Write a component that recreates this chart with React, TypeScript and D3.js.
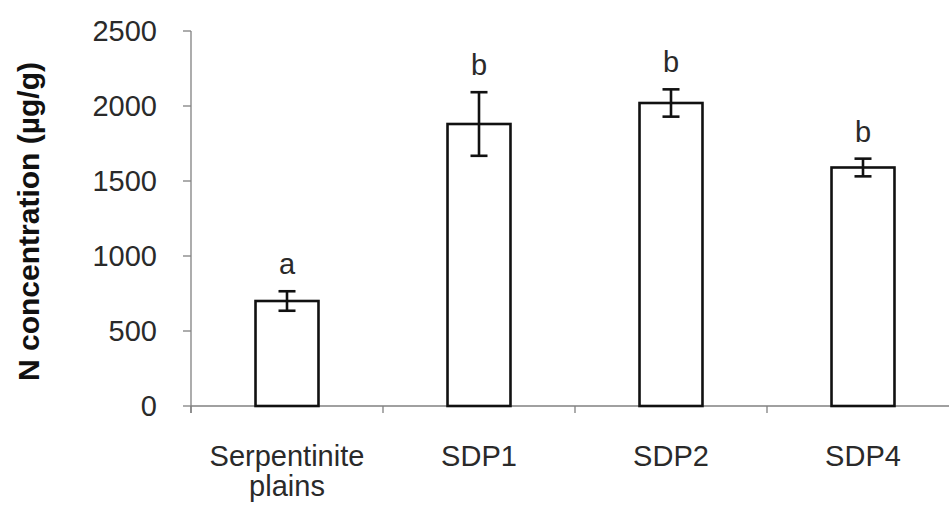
import React from 'react';
import * as d3 from 'd3';

// Values (µg/g), error bars are +/- half range
const categories = ['Serpentinite plains', 'SDP1', 'SDP2', 'SDP4'];
const categoryLines = [['Serpentinite', 'plains'], ['SDP1'], ['SDP2'], ['SDP4']];
const means = [700, 1880, 2020, 1590];
const errors = [65, 212, 91, 59];
const letters = ['a', 'b', 'b', 'b'];
const yTicks = [0, 500, 1000, 1500, 2000, 2500];

const W = 949;
const H = 506;
const font = '"Liberation Sans", Arial, Helvetica, sans-serif';
const axisColor = '#808080';
const textColor = '#2a2a2a';

export default function App() {
  // plot area
  const left = 191;
  const right = 959; // last category runs a bit past the window edge
  const top = 31;
  const bottom = 406;

  const x = d3
    .scaleBand<string>()
    .domain(categories)
    .range([left, right])
    .paddingInner(0.672)
    .paddingOuter(0.336);
  const y = d3.scaleLinear().domain([0, 2500]).range([bottom, top]);

  const step = x.step();
  const bw = x.bandwidth();
  const capHalf = 8.5;

  // category boundary ticks on the x axis
  const boundaries = d3.range(categories.length + 1).map((i) => left + i * step);

  return (
    <svg
      width={W}
      height={H}
      style={{ position: 'absolute', left: 0, top: 0, background: '#fff' }}
      fontFamily={font}
    >
      {/* y axis */}
      <line x1={left} x2={left} y1={top} y2={bottom + 7} stroke={axisColor} strokeWidth={1.3} />
      {yTicks.map((t) => (
        <g key={t}>
          <line x1={left - 8} x2={left} y1={y(t)} y2={y(t)} stroke={axisColor} strokeWidth={1.3} />
          <text
            x={157}
            y={y(t)}
            dy="0.36em"
            textAnchor="end"
            fontSize={29}
            fill={textColor}
          >
            {t}
          </text>
        </g>
      ))}

      {/* x axis */}
      <line x1={left} x2={right} y1={bottom} y2={bottom} stroke={axisColor} strokeWidth={1.3} />
      {boundaries.map((bx, i) => (
        <line key={i} x1={bx} x2={bx} y1={bottom} y2={bottom + 7} stroke={axisColor} strokeWidth={1.3} />
      ))}

      {/* bars */}
      {categories.map((c, i) => {
        const cx = (x(c) as number) + bw / 2;
        const hi = y(means[i] + errors[i]);
        const lo = y(means[i] - errors[i]);
        return (
          <g key={c}>
            <rect
              x={x(c)}
              y={y(means[i])}
              width={bw}
              height={y(0) - y(means[i])}
              fill="#fff"
              stroke="#111"
              strokeWidth={2.6}
            />
            <line x1={cx} x2={cx} y1={hi} y2={lo} stroke="#111" strokeWidth={2.6} />
            <line x1={cx - capHalf} x2={cx + capHalf} y1={hi} y2={hi} stroke="#111" strokeWidth={2.6} />
            <line x1={cx - capHalf} x2={cx + capHalf} y1={lo} y2={lo} stroke="#111" strokeWidth={2.6} />
            <text x={cx} y={hi - 17} textAnchor="middle" fontSize={29} fill={textColor}>
              {letters[i]}
            </text>
            <text textAnchor="middle" fontSize={29} fill={textColor}>
              {categoryLines[i].map((ln, j) => (
                <tspan key={j} x={cx} y={466 + j * 30}>
                  {ln}
                </tspan>
              ))}
            </text>
          </g>
        );
      })}

      {/* y axis title */}
      <text
        transform={`translate(39, ${(top + bottom) / 2 + 3}) rotate(-90)`}
        textAnchor="middle"
        fontSize={30}
        fontWeight="bold"
        fill="#111"
      >
        N concentration (µg/g)
      </text>
    </svg>
  );
}
